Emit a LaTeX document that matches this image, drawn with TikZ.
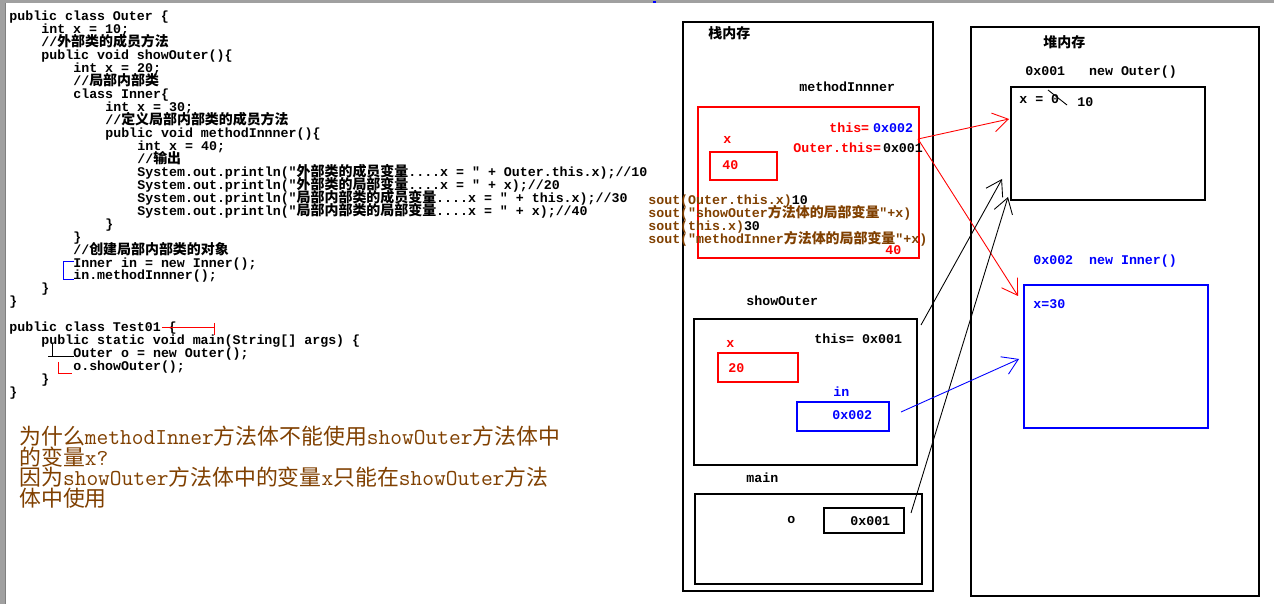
\documentclass[tikz,border=0pt]{standalone}
\usepackage{fontspec}
\usepackage{xcolor}
\usepackage{tikz}
\usetikzlibrary{arrows.meta, fit}

\newfontfamily\codefont{Liberation Mono}
\newfontfamily\zhfont{Noto Sans CJK SC}[Scale=1.05]
\newfontfamily\zhqfont{Noto Sans CJK SC}[Scale=0.96]
\newcommand\zh[1]{{\zhfont #1}}
\newcommand\zhq[1]{{\zhqfont #1}}
\newcommand\tb[1]{\hspace*{#1\dimexpr0.64cm\relax}}
\newcommand\codesize{\codefont\bfseries\fontsize{7.56pt}{7.37pt}\selectfont\lineskiplimit=-\maxdimen}
\newcommand\qsize{\ttfamily\fontsize{12.96pt}{11.62pt}\selectfont\lineskiplimit=-\maxdimen}

\definecolor{codebrown}{RGB}{128,64,0}
\definecolor{framegray}{RGB}{160,160,160}

\begin{document}
\begin{tikzpicture}[x=0.02cm, y=-0.02cm]
		\tikzstyle{code} = [inner sep=0pt, anchor=base west, font=\codesize]
		\tikzstyle{codeblock} = [inner sep=0pt, anchor=north west, align=left, font=\codesize]
		\tikzstyle{qblock} = [inner sep=0pt, anchor=north west, align=left, font=\qsize]
		\tikzstyle{framebox} = [draw=black, line width=0.8pt, inner sep=0pt]
		\tikzstyle{arrow} = [line width=0.5pt, -{Straight Barb[length=0.3cm, width=0.38cm]}]

		\fill[white] (0,0) rectangle (1274,604);
		\useasboundingbox (0,0) rectangle (1274,604);

		% window frame
		\fill[framegray] (0,0) rectangle (1274,3);
		\fill[framegray] (0,0) rectangle (6,604);
		\draw[gray] (5,3) -- (5,604);
		\fill[blue] (653,1) rectangle (656,3);

		% source code
		\node[codeblock] (code) at (9,11) {public class Outer \{\\
			\tb{1}int x = 10;\\
			\tb{1}//\zh{外部类的成员方法}\\
			\tb{1}public void showOuter()\{\\
			\tb{2}int x = 20;\\
			\tb{2}//\zh{局部内部类}\\
			\tb{2}class Inner\{\\
			\tb{3}int x = 30;\\
			\tb{3}//\zh{定义局部内部类的成员方法}\\
			\tb{3}public void methodInnner()\{\\
			\tb{4}int x = 40;\\
			\tb{4}//\zh{输出}\\
			\tb{4}System.out.println("\zh{外部类的成员变量}....x = " + Outer.this.x);//10\\
			\tb{4}System.out.println("\zh{外部类的局部变量}....x = " + x);//20\\
			\tb{4}System.out.println("\zh{局部内部类的成员变量}....x = " + this.x);//30\\
			\tb{4}System.out.println("\zh{局部内部类的局部变量}....x = " + x);//40\\
			\tb{3}\}\\
			\tb{2}\}\\
			\tb{2}//\zh{创建局部内部类的对象}\\
			\tb{2}Inner in = new Inner();\\
			\tb{2}in.methodInnner();\\
			\tb{1}\}\\
			\}\\
			\mbox{}\\
			public class Test01 \{\\
			\tb{1}public static void main(String[] args) \{\\
			\tb{2}Outer o = new Outer();\\
			\tb{2}o.showOuter();\\
			\tb{1}\}\\
			\}};

		% pen marks on the code
		\draw[blue, line width=0.5pt] (74,261) -- (63,261) -- (63,279) -- (74,279);
		\draw[red, line width=0.5pt] (162,327) -- (214,327) (214,323) -- (214,335);
		\draw[line width=0.5pt] (52,344) -- (52,357) (48,356) -- (74,356);
		\draw[red, line width=0.5pt] (58,362) -- (58,373) -- (72,373);

		% question
		\node[qblock, codebrown] (question) at (19,426) {\zhq{为什么}methodInner\zhq{方法体不能使用}showOuter\zhq{方法体中}\\
			\zhq{的变量}x?\\
			\zhq{因为}showOuter\zhq{方法体中的变量}x\zhq{只能在}showOuter\zhq{方法}\\
			\zhq{体中使用}};

		% stack memory
		\node[framebox, fit={(683,22) (933,591)}] (stack) {};
		\node[code] (stacklbl) at (708,39) {\zh{栈内存}};

		\node[code] (mlbl) at (799,92) {methodInnner};
		\node[framebox, draw=red, fit={(698,107) (919,258)}] (mframe) {};
		\node[code, red] (mthis) at (829,133) {this=\hspace{0.08cm}\textcolor{blue}{0x002}};
		\node[code, red] (mx) at (723,144) {x};
		\node[code, red] (mouter) at (793,153) {Outer.this=\hspace{0.04cm}\textcolor{black}{0x001}};
		\node[framebox, draw=red, fit={(710,152) (777,180)}] (mxbox) {};
		\node[code, red] (mxval) at (722,170) {40};
		\node[codeblock, codebrown] (souts) at (648,194.5) {sout(Outer.this.x)\textcolor{black}{10}\\
			sout("showOuter\zh{方法体的局部变量}"+x)\\
			sout(this.x)\textcolor{black}{30}\\
			sout("methodInner\zh{方法体的局部变量}"+x)};
		\node[code, red] (m40) at (885,255) {40};

		\node[code] (slbl) at (746,306) {showOuter};
		\node[framebox, fit={(694,319) (917,465)}] (sframe) {};
		\node[code] (sthis) at (814,343) {this= 0x001};
		\node[code, red] (sx) at (726,348) {x};
		\node[framebox, draw=red, fit={(718,353) (798,382)}] (sxbox) {};
		\node[code, red] (sxval) at (728,373) {20};
		\node[code, blue] (sin) at (833,397) {in};
		\node[framebox, draw=blue, fit={(797,402) (889,431)}] (sinbox) {};
		\node[code, blue] (sinval) at (832,419) {0x002};

		\node[code] (mainlbl) at (746,482) {main};
		\node[framebox, fit={(695,494) (922,584)}] (mainframe) {};
		\node[code] (mo) at (787,523) {o};
		\node[framebox, fit={(824,508) (904,533)}] (mobox) {};
		\node[code] (moval) at (850,525) {0x001};

		% heap memory
		\node[framebox, fit={(971,27) (1259,596)}] (heap) {};
		\node[code] (heaplbl) at (1043,48) {\zh{堆内存}};

		\node[code] (outlbl) at (1025,76) {0x001~~~new Outer()};
		\node[framebox, fit={(1011,87) (1205,200)}] (outobj) {};
		\node[code] (outx) at (1019,104) {x = 0};
		\node[code] (outten) at (1077,107) {10};
		\draw[line width=0.5pt] (1048,90) -- (1067,105);

		\node[code, blue] (inlbl) at (1033,265) {0x002~~new Inner()};
		\node[framebox, draw=blue, fit={(1024,285) (1208,428)}] (inobj) {};
		\node[code, blue] (inx) at (1033,309) {x=30};

		% references
		\coordinate (r0) at (918,139);
		\coordinate (r1) at (1009,119);
		\coordinate (r2) at (1018,296);
		\coordinate (b0) at (921,325);
		\coordinate (b1) at (1002,179);
		\coordinate (c0) at (911,513);
		\coordinate (c1) at (1008,197);
		\coordinate (u0) at (901,412);
		\coordinate (u1) at (1019,359);

		\draw[arrow, red] (r0) -- (r1);
		\draw[arrow, red] (r0) -- (r2);
		\draw[arrow] (b0) -- (b1);
		\draw[arrow] (c0) -- (c1);
		\draw[arrow, blue] (u0) -- (u1);
\end{tikzpicture}
\end{document}
